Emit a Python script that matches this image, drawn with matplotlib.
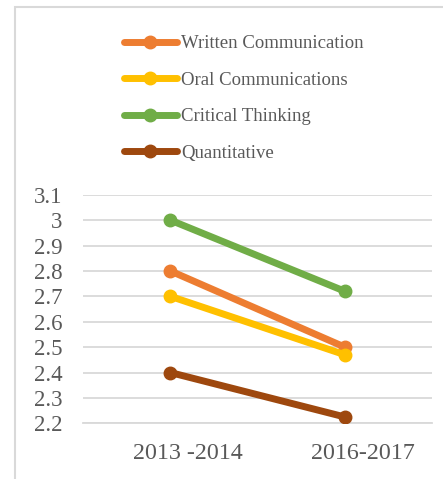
import matplotlib.pyplot as plt
import matplotlib.transforms as mtransforms
from matplotlib.patches import Rectangle

periods = ['2013 -2014', '2016-2017']
written = [2.8, 2.5]
oral = [2.7, 2.47]
critical = [3.0, 2.72]
quantitative = [2.4, 2.225]
names = ['Written Communication', 'Oral Communications', 'Critical Thinking', 'Quantitative']
colors = ['#ed7d31', '#ffc000', '#70ad47', '#9e480e']
yticks = [2.2, 2.3, 2.4, 2.5, 2.6, 2.7, 2.8, 2.9, 3.0, 3.1]
ylabels = ['2.2', '2.3', '2.4', '2.5', '2.6', '2.7', '2.8', '2.9', '3', '3.1']

plt.rcParams['font.family'] = ['Liberation Serif', 'DejaVu Serif']
txt = '#595959'

W, H = 443, 479
fig = plt.figure(figsize=(W / 100, H / 100), dpi=100)
ax = fig.add_axes([83 / W, 1 - 423.3 / H, 349 / W, (423.3 - 194.7) / H])

x = [0, 1]
for vals, name, c in zip([written, oral, critical, quantitative], names, colors):
    ax.plot(x, vals, color=c, lw=5, marker='o', ms=9, label=name,
            solid_capstyle='round', zorder=3)

ax.set_xlim(-0.5, 1.5)
ax.set_ylim(2.2, 3.1)
ax.set_yticks(yticks)
ax.set_yticklabels(ylabels)
ax.set_xticks(x)
ax.set_xticklabels(periods)
ax.grid(axis='y', color='#d9d9d9', lw=1.3)
ax.set_axisbelow(True)
for s in ax.spines.values():
    s.set_visible(False)
ax.spines['bottom'].set_visible(True)
ax.spines['bottom'].set_color('#d9d9d9')
ax.spines['bottom'].set_linewidth(1.3)
ax.tick_params(length=0, colors=txt)
ax.tick_params(axis='y', pad=15, labelsize=16.5)
ax.tick_params(axis='x', pad=14, labelsize=17.3)

# category labels sit a little right of the points in the original
shift = mtransforms.ScaledTranslation(18 / 100, 0, fig.dpi_scale_trans)
for lab in ax.get_xticklabels():
    lab.set_transform(lab.get_transform() + shift)

fig.legend(loc='upper left', bbox_to_anchor=(124 / W, 1 - 35 / H), frameon=False,
           fontsize=13.5, handlelength=2.8, handletextpad=0.25, labelspacing=1.04,
           borderpad=0, borderaxespad=0, labelcolor=txt)

# chart-area border running off the right and bottom
fig.add_artist(Rectangle((15 / W, -0.1), 1.0, 1.1 - 7 / H, transform=fig.transFigure,
                         fill=False, edgecolor='#d9d9d9', lw=1.5))

fig.savefig('out.png', dpi=100)
